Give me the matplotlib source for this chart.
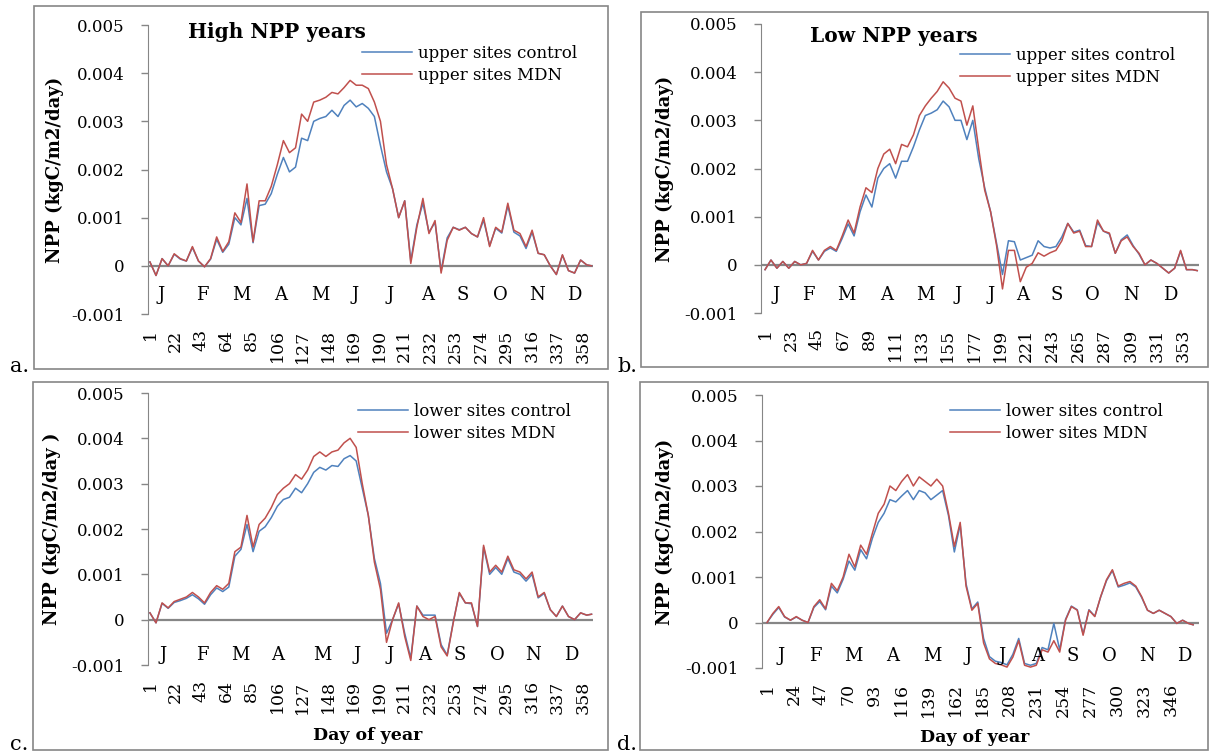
import matplotlib.pyplot as plt
from matplotlib.patches import Rectangle

W, H = 1209, 755
BLUE = "#4f81bd"
RED = "#c0504d"
GRAY = "#868686"

DAYS = [*range(1, 362, 5), 365]
MONTHS = ["J", "F", "M", "A", "M", "J", "J", "A", "S", "O", "N", "D"]
Y_TICKS = [-0.001, 0, 0.001, 0.002, 0.003, 0.004, 0.005]
Y_TICK_LABELS = ["-0.001", "0", "0.001", "0.002", "0.003", "0.004", "0.005"]

# a. upper sites, high NPP years
A_CONTROL = [
    0.00008, -0.00020, 0.00015, 0.00000, 0.00024, 0.00014, 0.00010, 0.00038,
    0.00010, -0.00002, 0.00014, 0.00055, 0.00028, 0.00045, 0.00100, 0.00085,
    0.00140, 0.00048, 0.00125, 0.00128, 0.00150, 0.00190, 0.00225, 0.00195,
    0.00205, 0.00265, 0.00260, 0.00300, 0.00306, 0.00310, 0.00323, 0.00310,
    0.00333, 0.00344, 0.00330, 0.00337, 0.00327, 0.00310, 0.00250, 0.00195,
    0.00160, 0.00100, 0.00135, 0.00010, 0.00085, 0.00130, 0.00070, 0.00090,
    -0.00010, 0.00058, 0.00080, 0.00075, 0.00080, 0.00067, 0.00060, 0.00095,
    0.00042, 0.00078, 0.00068, 0.00125, 0.00070, 0.00062, 0.00036, 0.00070,
    0.00026, 0.00023, 0.00000, -0.00018, 0.00022, -0.00010, -0.00015, 0.00012,
    0.00002, 0.00000,
]
A_MDN = [
    0.00008, -0.00020, 0.00015, 0.00000, 0.00025, 0.00015, 0.00010, 0.00040,
    0.00010, -0.00002, 0.00015, 0.00060, 0.00030, 0.00050, 0.00110, 0.00090,
    0.00170, 0.00050, 0.00135, 0.00135, 0.00165, 0.00210, 0.00260, 0.00235,
    0.00245, 0.00315, 0.00300, 0.00340, 0.00344, 0.00350, 0.00360, 0.00357,
    0.00370, 0.00385, 0.00375, 0.00375, 0.00368, 0.00340, 0.00300, 0.00210,
    0.00160, 0.00100, 0.00135, 0.00005, 0.00080, 0.00140, 0.00067, 0.00094,
    -0.00015, 0.00053, 0.00080, 0.00074, 0.00080, 0.00067, 0.00060, 0.00100,
    0.00040, 0.00080, 0.00070, 0.00130, 0.00074, 0.00067, 0.00040, 0.00074,
    0.00026, 0.00023, 0.00000, -0.00018, 0.00023, -0.00010, -0.00015, 0.00012,
    0.00002, 0.00000,
]

# b. upper sites, low NPP years
B_CONTROL = [
    -0.00010, 0.00010, -0.00007, 0.00007, -0.00007, 0.00007, 0.00000, 0.00003,
    0.00028, 0.00010, 0.00028, 0.00035, 0.00028, 0.00055, 0.00085, 0.00060,
    0.00110, 0.00145, 0.00120, 0.00180, 0.00200, 0.00210, 0.00180, 0.00215,
    0.00215, 0.00245, 0.00280, 0.00310, 0.00315, 0.00322, 0.00340, 0.00328,
    0.00300, 0.00300, 0.00260, 0.00300, 0.00220, 0.00160, 0.00110, 0.00045,
    -0.00020, 0.00050, 0.00048, 0.00010, 0.00015, 0.00020, 0.00050, 0.00038,
    0.00035, 0.00038, 0.00058, 0.00086, 0.00068, 0.00072, 0.00040, 0.00038,
    0.00088, 0.00070, 0.00064, 0.00024, 0.00052, 0.00062, 0.00040, 0.00022,
    0.00000, 0.00010, 0.00003, -0.00007, -0.00017, -0.00007, 0.00028, -0.00010,
    -0.00010, -0.00012,
]
B_MDN = [
    -0.00010, 0.00010, -0.00007, 0.00007, -0.00007, 0.00007, 0.00000, 0.00003,
    0.00030, 0.00010, 0.00030, 0.00038, 0.00030, 0.00060, 0.00093, 0.00066,
    0.00120, 0.00160, 0.00150, 0.00200, 0.00230, 0.00240, 0.00210, 0.00250,
    0.00245, 0.00270, 0.00310, 0.00330, 0.00346, 0.00360, 0.00380, 0.00367,
    0.00346, 0.00340, 0.00290, 0.00330, 0.00240, 0.00155, 0.00110, 0.00040,
    -0.00050, 0.00030, 0.00030, -0.00035, -0.00005, 0.00003, 0.00025, 0.00018,
    0.00025, 0.00030, 0.00050, 0.00086, 0.00066, 0.00070, 0.00038, 0.00038,
    0.00093, 0.00070, 0.00066, 0.00024, 0.00050, 0.00058, 0.00038, 0.00024,
    0.00000, 0.00010, 0.00003, -0.00007, -0.00017, -0.00007, 0.00030, -0.00010,
    -0.00010, -0.00012,
]

# c. lower sites, high NPP years
C_CONTROL = [
    0.00015, -0.00007, 0.00036, 0.00025, 0.00038, 0.00042, 0.00047, 0.00055,
    0.00046, 0.00034, 0.00055, 0.00070, 0.00062, 0.00072, 0.00140, 0.00155,
    0.00210, 0.00150, 0.00195, 0.00205, 0.00225, 0.00250, 0.00265, 0.00270,
    0.00290, 0.00280, 0.00300, 0.00325, 0.00336, 0.00330, 0.00340, 0.00338,
    0.00355, 0.00362, 0.00350, 0.00290, 0.00230, 0.00135, 0.00080, -0.00030,
    0.00000, 0.00035, -0.00030, -0.00085, 0.00030, 0.00010, 0.00010, 0.00010,
    -0.00055, -0.00078, -0.00005, 0.00058, 0.00037, 0.00035, -0.00015, 0.00160,
    0.00100, 0.00115, 0.00100, 0.00135, 0.00105, 0.00100, 0.00085, 0.00100,
    0.00048, 0.00058, 0.00022, 0.00007, 0.00030, 0.00007, 0.00000, 0.00015,
    0.00010, 0.00012,
]
C_MDN = [
    0.00015, -0.00007, 0.00037, 0.00026, 0.00040, 0.00045, 0.00050, 0.00060,
    0.00050, 0.00037, 0.00060, 0.00075, 0.00067, 0.00080, 0.00150, 0.00160,
    0.00230, 0.00160, 0.00210, 0.00224, 0.00247, 0.00276, 0.00290, 0.00300,
    0.00320, 0.00310, 0.00330, 0.00360, 0.00370, 0.00360, 0.00370, 0.00374,
    0.00390, 0.00400, 0.00380, 0.00300, 0.00230, 0.00127, 0.00067, -0.00050,
    0.00000, 0.00037, -0.00037, -0.00090, 0.00030, 0.00007, 0.00000, 0.00007,
    -0.00060, -0.00080, -0.00007, 0.00060, 0.00037, 0.00037, -0.00015, 0.00164,
    0.00105, 0.00120, 0.00105, 0.00140, 0.00110, 0.00105, 0.00090, 0.00105,
    0.00050, 0.00060, 0.00022, 0.00007, 0.00030, 0.00007, 0.00000, 0.00015,
    0.00010, 0.00012,
]

# d. lower sites, low NPP years
D_CONTROL = [
    0.00000, 0.00018, 0.00033, 0.00012, 0.00005, 0.00012, 0.00005, 0.00000,
    0.00033, 0.00046, 0.00028, 0.00080, 0.00065, 0.00095, 0.00135, 0.00115,
    0.00160, 0.00140, 0.00185, 0.00220, 0.00240, 0.00270, 0.00265, 0.00278,
    0.00290, 0.00270, 0.00290, 0.00285, 0.00270, 0.00280, 0.00290, 0.00235,
    0.00155, 0.00215, 0.00085, 0.00030, 0.00045, -0.00035, -0.00075, -0.00085,
    -0.00088, -0.00093, -0.00070, -0.00035, -0.00090, -0.00094, -0.00090, -0.00055,
    -0.00060, -0.00002, -0.00060, 0.00007, 0.00036, 0.00028, -0.00025, 0.00028,
    0.00014, 0.00056, 0.00092, 0.00114, 0.00078, 0.00082, 0.00087, 0.00078,
    0.00055, 0.00027, 0.00020, 0.00027, 0.00020, 0.00013, -0.00002, 0.00005,
    -0.00002, -0.00005,
]
D_MDN = [
    0.00000, 0.00020, 0.00035, 0.00013, 0.00005, 0.00013, 0.00005, 0.00000,
    0.00035, 0.00050, 0.00030, 0.00086, 0.00070, 0.00100, 0.00150, 0.00122,
    0.00170, 0.00150, 0.00196, 0.00240, 0.00260, 0.00300, 0.00290, 0.00310,
    0.00325, 0.00300, 0.00320, 0.00310, 0.00300, 0.00315, 0.00300, 0.00240,
    0.00167, 0.00220, 0.00080, 0.00027, 0.00042, -0.00045, -0.00080, -0.00090,
    -0.00093, -0.00098, -0.00076, -0.00040, -0.00094, -0.00098, -0.00094, -0.00060,
    -0.00065, -0.00040, -0.00065, 0.00005, 0.00035, 0.00027, -0.00028, 0.00027,
    0.00013, 0.00057, 0.00094, 0.00116, 0.00080, 0.00086, 0.00090, 0.00080,
    0.00057, 0.00027, 0.00020, 0.00027, 0.00020, 0.00013, -0.00002, 0.00005,
    -0.00002, -0.00005,
]

UPPER_LABELS = ("upper sites control", "upper sites MDN")
LOWER_LABELS = ("lower sites control", "lower sites MDN")

plt.rcParams["font.family"] = ["DejaVu Serif"]


def fig_rect(left, top, right, bottom):
    """pixel box (from top-left) -> figure fraction rect"""
    return [left / W, 1 - bottom / H, (right - left) / W, (bottom - top) / H]


panels = [
    dict(box=(34, 6, 608, 369), axes=(148, 25, 593, 314), xlim=(-0.6, 366.2),
         step=21, control=A_CONTROL, mdn=A_MDN, labels=UPPER_LABELS,
         legend=(0.481, 0.93), title="High NPP years", title_xy=(188, 32),
         month_days=[10.6, 44.3, 76.6, 108.6, 141.2, 170, 199, 230, 259, 290, 320, 351],
         month_y=-0.0006, letter="a.", letter_xy=(10, 366),
         ylabel="NPP (kgC/m2/day)", ylabel_x=-0.209, xlabel=None),
    dict(box=(641, 12, 1208, 367), axes=(761, 24, 1199, 313), xlim=(-2.4, 366.5),
         step=22, control=B_CONTROL, mdn=B_MDN, labels=UPPER_LABELS,
         legend=(0.454, 0.92), title="Low NPP years", title_xy=(810, 36),
         month_days=[10.5, 37.4, 69.4, 103, 136, 163.5, 191, 218, 247, 277, 309, 342],
         month_y=-0.00062, letter="b.", letter_xy=(617, 366),
         ylabel="NPP (kgC/m2/day)", ylabel_x=-0.219, xlabel=None),
    dict(box=(33, 382, 608, 750), axes=(148, 393, 593, 665), xlim=(-0.6, 366.2),
         step=21, control=C_CONTROL, mdn=C_MDN, labels=LOWER_LABELS,
         legend=(0.472, 0.965), title=None, title_xy=None,
         month_days=[11.7, 43.9, 75.2, 106.5, 142.8, 171.6, 198.9, 227.7, 256.6, 287, 316.7, 348],
         month_y=-0.00078, letter="c.", letter_xy=(10, 744),
         ylabel="NPP (kgC/m2/day )", ylabel_x=-0.215, xlabel=(368, 735)),
    dict(box=(640, 382, 1208, 750), axes=(762, 395, 1199, 668), xlim=(-3.3, 370),
         step=23, control=D_CONTROL, mdn=D_MDN, labels=LOWER_LABELS,
         legend=(0.43, 0.97), title=None, title_xy=None,
         month_days=[12.9, 42.4, 74.8, 108.4, 142.3, 172.7, 201.7, 232, 262, 293.8, 325.9, 357],
         month_y=-0.00073, letter="d.", letter_xy=(617, 744),
         ylabel="NPP (kgC/m2/day)", ylabel_x=-0.222, xlabel=(975, 737)),
]

fig = plt.figure(figsize=(W / 100, H / 100), dpi=100)

for p in panels:
    l, t, r, b = p["box"]
    fig.add_artist(Rectangle((l / W, 1 - b / H), (r - l) / W, (b - t) / H,
                             transform=fig.transFigure, fill=False,
                             edgecolor=GRAY, lw=1.2))
    ax = fig.add_axes(fig_rect(*p["axes"]))
    ax.plot(DAYS, p["control"], color=BLUE, lw=1.1, label=p["labels"][0])
    ax.plot(DAYS, p["mdn"], color=RED, lw=1.1, label=p["labels"][1])
    ax.axhline(0, color=GRAY, lw=1.6, zorder=1)

    ax.set_xlim(*p["xlim"])
    ax.set_ylim(-0.001, 0.005)
    ax.set_yticks(Y_TICKS)
    ax.set_yticklabels(Y_TICK_LABELS)
    ax.set_xticks(list(range(1, 366, p["step"])))
    ax.set_xticklabels([str(d) for d in range(1, 366, p["step"])], rotation=90)
    ax.tick_params(axis="x", length=0, pad=11, labelsize=12.5)
    ax.tick_params(axis="y", direction="out", length=5, width=1, color=GRAY,
                   pad=12, labelsize=12)
    for side in ("top", "right", "bottom"):
        ax.spines[side].set_visible(False)
    ax.spines["left"].set_color(GRAY)
    ax.patch.set_alpha(0)

    ax.set_ylabel(p["ylabel"], fontsize=13, fontweight="bold")
    ax.yaxis.label.set_va("center")
    ax.yaxis.set_label_coords(p["ylabel_x"], 0.5)

    for letter, d in zip(MONTHS, p["month_days"]):
        ax.text(d, p["month_y"], letter, ha="center", va="center", fontsize=13)

    ax.legend(loc="upper left", bbox_to_anchor=p["legend"], frameon=False,
              fontsize=12, handlelength=3.0, handletextpad=0.35,
              borderpad=0, borderaxespad=0, labelspacing=0.3)

    if p["title"]:
        fig.text(p["title_xy"][0] / W, 1 - p["title_xy"][1] / H, p["title"],
                 fontsize=14.5, fontweight="bold", ha="left", va="center")
    if p["xlabel"]:
        fig.text(p["xlabel"][0] / W, 1 - p["xlabel"][1] / H, "Day of year",
                 fontsize=12.5, fontweight="bold", ha="center", va="center")
    fig.text(p["letter_xy"][0] / W, 1 - p["letter_xy"][1] / H, p["letter"],
             fontsize=15, ha="left", va="center")

fig.savefig("out.png", dpi=100)
